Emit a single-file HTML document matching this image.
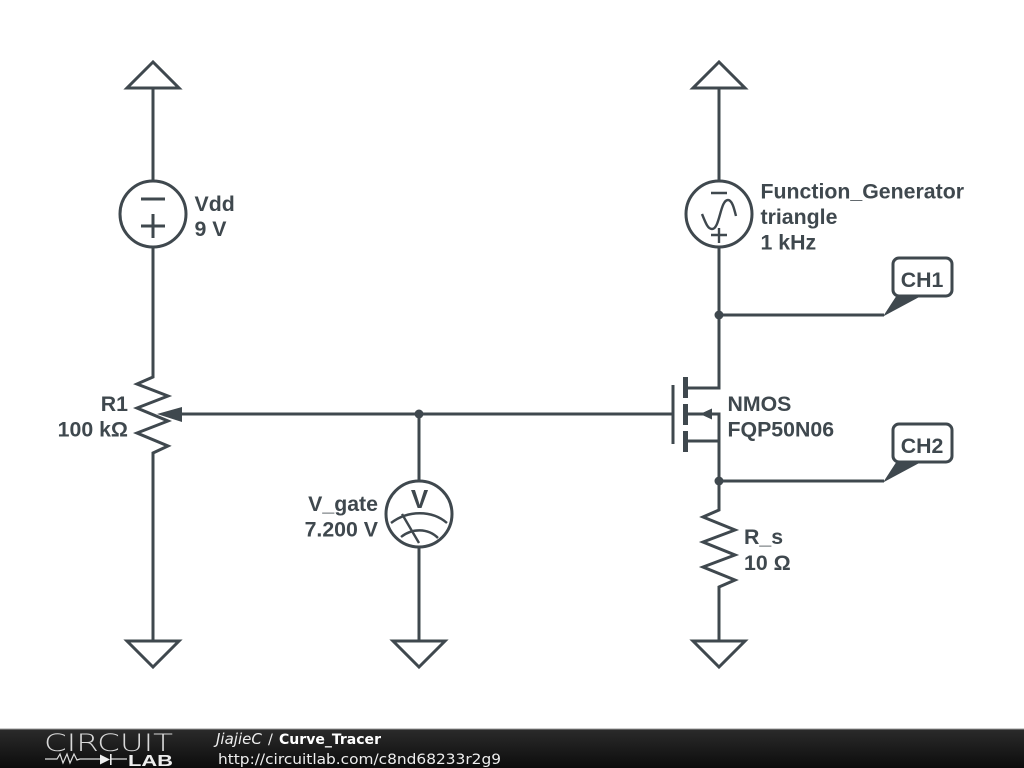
<!DOCTYPE html>
<html><head><meta charset="utf-8"><style>
html,body{margin:0;padding:0;background:#fff;width:1024px;height:768px;overflow:hidden}
svg{display:block}
.w{fill:none;stroke:#3f484e;stroke-width:3;stroke-linejoin:miter}
.t{font-family:"Liberation Sans",sans-serif;font-weight:bold;font-size:21.3px;fill:#3f484e}
.f{font-family:"DejaVu Sans",sans-serif;font-size:14.5px;fill:#eee}
</style></head><body>
<svg width="1024" height="768" viewBox="0 0 1024 768" xmlns="http://www.w3.org/2000/svg">
<defs><linearGradient id="g" x1="0" y1="0" x2="0" y2="1"><stop offset="0" stop-color="#2b2b2b"/><stop offset="1" stop-color="#0c0c0c"/></linearGradient></defs>
<rect width="1024" height="768" fill="#fff"/>
<g class="w">
<!-- left column -->
<polygon points="153,62 127,88 179,88"/>
<path d="M153 88V181M153 247V377L137 384 168 396 137 408 168 421 137 433 168 446 153 453V641"/>
<circle cx="153" cy="214" r="33"/>
<path d="M141 199H165M141 226H165M153 214V238"/>
<polygon points="127,641 179,641 153,667"/>
<!-- gate wire -->
<path d="M178 414H673"/>
<path d="M419 414V481M419 547V641"/>
<circle cx="419" cy="514" r="33"/>
<polygon points="393,641 445,641 419,667"/>
<!-- right column -->
<polygon points="719,62 693,88 745,88"/>
<path d="M719 88V181M719 247V388H688M688 414H719V510L703 517 735 530 703 542 735 555 703 567 735 580 719 587V641M688 441H719M719 315H884M719 481H884"/>
<circle cx="719" cy="214" r="33"/>
<polygon points="693,641 745,641 719,667"/>
<path d="M673 385V444"/>
</g>
<g fill="none" stroke="#3f484e" stroke-width="2.4">
<path d="M711 193H727M711 235H727M719 228V243"/>
<path d="M702 214C706 224 708 229 712 229C720 229 720 200 728 200C732 200 734 208 736 216"/>
<path d="M391 523C408 510 432 510 447 523M401 537C412 528 428 528 438 538M402 514L419 543"/>
</g>
<g fill="#3f484e">
<rect x="683" y="377" width="5" height="21"/>
<rect x="683" y="404" width="5" height="21"/>
<rect x="683" y="431" width="5" height="21"/>
<polygon points="700,414 712,408.500 712,419.500"/>
<polygon points="157,414 182,407 182,422"/>
<circle cx="419" cy="414" r="4.5"/>
<circle cx="719" cy="315" r="4.500"/>
<circle cx="719" cy="481" r="4.500"/>
<polygon points="883,316.500 897,295 923,295"/>
<polygon points="883,482.500 897,461 923,461"/>
</g>
<g fill="#fff" stroke="#3f484e" stroke-width="3">
<rect x="893" y="258" width="59" height="38" rx="6"/>
<rect x="893" y="424" width="59" height="38" rx="6"/>
</g>
<g class="t">
<text x="922" y="287" text-anchor="middle">CH1</text>
<text x="922" y="453" text-anchor="middle">CH2</text>
<text x="194.500" y="211">Vdd</text>
<text x="194.500" y="236">9 V</text>
<text x="760.500" y="198.500">Function_Generator</text>
<text x="760.500" y="224">triangle</text>
<text x="760.500" y="249.500">1 kHz</text>
<text x="727.500" y="411">NMOS</text>
<text x="727.500" y="436.500">FQP50N06</text>
<text x="128" y="411" text-anchor="end">R1</text>
<text x="128" y="436.500" text-anchor="end">100 kΩ</text>
<text x="378" y="511" text-anchor="end">V_gate</text>
<text x="378" y="536.500" text-anchor="end">7.200 V</text>
<text x="744" y="544">R_s</text>
<text x="744" y="570">10 Ω</text>
<text x="419.500" y="508" text-anchor="middle" style="font-size:26px">V</text>
</g>
<!-- footer -->
<rect x="0" y="729" width="1024" height="39" fill="url(#g)"/>
<rect x="0" y="728.500" width="1024" height="1" fill="#999"/>
<text x="44" y="751" font-family="DejaVu Sans,sans-serif" font-weight="200" font-size="24" fill="#d8d8d8" textLength="129" lengthAdjust="spacingAndGlyphs">CIRCUIT</text>
<path d="M45 759H57L60 754 63 763 67 754 70 763 74 754 77 760 80 759H100M111 759H127" fill="none" stroke="#ddd" stroke-width="1.2"/>
<polygon points="100,754.500 100,764.500 110,759.500" fill="#eee"/>
<rect x="110" y="754" width="1.600" height="11" fill="#eee"/>
<text x="128" y="766" font-family="Liberation Sans,sans-serif" font-weight="bold" font-size="16" fill="#eee" textLength="45" lengthAdjust="spacingAndGlyphs">LAB</text>
<text class="f" x="216" y="744" font-style="italic" style="font-size:15px">JiajieC</text>
<text class="f" x="268" y="744">/</text>
<text class="f" x="279" y="744" font-weight="bold" fill="#fff" textLength="102" lengthAdjust="spacingAndGlyphs" style="font-size:14.2px;fill:#fff">Curve_Tracer</text>
<text class="f" x="218" y="764" textLength="283" lengthAdjust="spacingAndGlyphs">http://circuitlab.com/c8nd68233r2g9</text>
</svg>
</body></html>
